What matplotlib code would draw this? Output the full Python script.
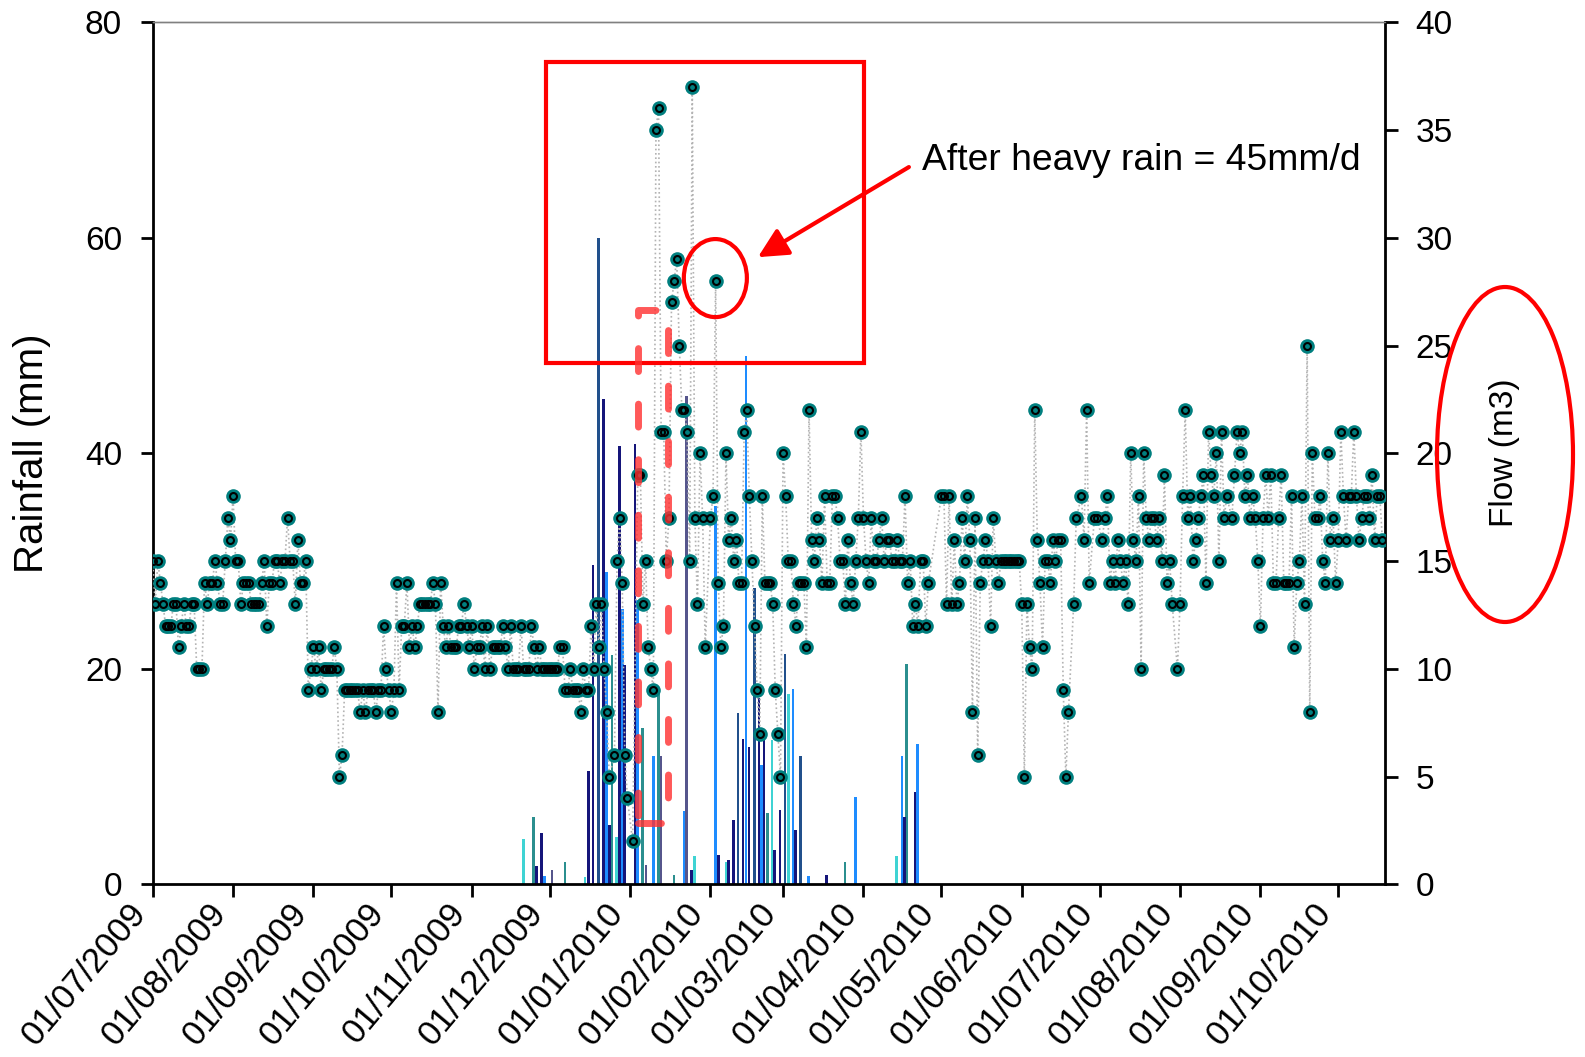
import numpy as np
import pandas as pd
import matplotlib
matplotlib.use("Agg")
import matplotlib.pyplot as plt
from matplotlib.patches import Rectangle, Ellipse

plt.rcParams['font.family'] = ['Liberation Sans', 'DejaVu Sans']

start = pd.Timestamp('2009-07-01')
month_starts = pd.date_range('2009-07-01', '2010-10-01', freq='MS')
tick_days = np.array((month_starts - start).days)
tick_labels = [d.strftime('%d/%m/%Y') for d in month_starts]

# daily flow (m3), one value per day from 01/07/2009, None = no reading
flow = [
    15, 13, 15, 14, 13, 12, 12, 12, 13, 13, 11, 12, 13, 12, 12, 13, 13, 10, 10, 10,
    14, 13, 14, 14, 15, 14, 13, 13, 15, 17, 16, 18, 15, 15, 13, 14, 14, 14, 13, 13,
    13, 13, 14, 15, 12, 14, 14, 15, 15, 14, 15, 15, 17, 15, 15, 13, 16, 14, 14, 15,
    9, 10, 11, 10, 11, 9, 10, 10, 10, 10, 11, 10, 5, 6, 9, 9, 9, 9, 9, 9,
    8, 9, 8, 9, 9, 9, 8, 9, 9, 12, 10, 9, 8, 9, 14, 9, 12, 12, 14, 11,
    12, 11, 12, 13, 13, 13, 13, 13, 14, 13, 8, 14, 12, 11, 12, 11, 11, 11, 12, 12,
    13, 12, 11, 12, 10, 11, 11, 12, 10, 12, 10, 11, 11, 11, 11, 12, 11, 10, 12, 10,
    10, 10, 12, 10, 10, 10, 12, 11, 10, 11, 10, 10, 10, 10, 10, 10, 10, 11, 11, 9,
    9, 10, 9, 9, 9, 8, 10, 9, 9, 12, 10, 13, 11, 13, 10, 8, 5, None, 6, 15,
    17, 14, 6, 4, None, 2, None, 19, 19, 13, 15, 11, 10, 9, 35, 36, 21, 21, 15, 17,
    27, 28, 29, 25, 22, 22, 21, 15, 37, 17, 13, 20, 17, 11, None, 17, 18, 28, 14, 11,
    12, 20, 16, 17, 15, 16, 14, 14, 21, 22, 18, 15, 12, 9, 7, 18, 14, 14, 14, 13,
    9, 7, 5, 20, 18, 15, 15, 13, 12, 14, 14, 14, 11, 22, 16, 15, 17, 16, 14, 18,
    14, 14, 18, 18, 17, 15, 15, 13, 16, 14, 13, 15, 17, 21, 17, 15, 14, 17, 15, 15,
    16, 17, 15, 16, 16, 15, 15, 16, 15, 15, 18, 14, 15, 12, 13, 12, 15, 15, 12, 14,
    None, None, None, None, 18, 18, 13, 18, 13, 16, 13, 14, 17, 15, 18, 16, 8, 17, 6, 14,
    15, 16, 15, 12, 17, 15, 14, 15, 15, 15, 15, 15, 15, 15, 15, 13, 5, 13, 11, 10,
    22, 16, 14, 11, 15, 15, 14, 16, 15, 16, 16, 9, 5, 8, None, 13, 17, None, 18, 16,
    22, 14, None, 17, 17, None, 16, 17, 18, 14, 15, 14, 16, 15, 14, 15, 13, 20, 16, 15,
    18, 10, 20, 17, 16, 17, 17, 16, 17, 15, 19, 14, 15, 13, None, 10, 13, 18, 22, 17,
    18, 15, 16, 17, 18, 19, 14, 21, 19, 18, 20, 15, 21, 17, 18, None, 17, 19, 21, 20,
    21, 18, 19, 17, 18, 17, 15, 12, 17, 19, 17, 19, 14, 14, 17, 19, 14, 14, 14, 18,
    11, 14, 15, 18, 13, 25, 8, 20, 17, 17, 18, 15, 14, 20, 16, 17, 14, 16, 21, 18,
    16, 18, 18, 21, 18, 16, 17, 18, 18, 17, 19, 16, 18, 18, 16,
]

# daily rainfall (mm) at several gauges: day number from 01/07/2009, value
rain_navy_day = [148, 150, 168, 169.8, 173.7, 176, 179.9, 181.8, 185.9, 207.7, 218, 221.9,
                 223.8, 227.6, 229.9, 233.7, 235.6, 239.8, 241.8, 247.9, 259.8, 289.9, 293.8]
rain_navy_mm = [1.7, 4.8, 10.5, 29.6, 45, 5.5, 40.7, 20.4, 40.9, 1.3, 2.7, 2.3,
                6, 13.5, 12.8, 17.3, 13.7, 3.2, 6.9, 5.1, 0.9, 6.3, 8.6]
rain_dark_day = [171.8, 225.7, 231.9, 243.7, 249.7]
rain_dark_mm = [60, 15.9, 27.5, 21.4, 11.9]
rain_blue_day = [151, 175, 181, 186.9, 193, 204.8, 217, 228.7, 234.7, 246.9, 252.7, 270.9, 288.8, 294.7]
rain_blue_mm = [0.8, 29, 25.6, 26.4, 11.9, 6.8, 35.1, 49, 11.1, 18.1, 0.8, 8.1, 11.9, 13]
rain_cyan_day = [142.9, 166.6, 178.8, 208.8, 221, 238.8, 245, 286.7]
rain_cyan_mm = [4.2, 0.7, 4.4, 2.6, 2.1, 13.4, 17.7, 2.6]
rain_teal_day = [146.7, 159, 177, 188.9, 194.9, 200.9, 236.9, 266.8, 290.6]
rain_teal_mm = [6.3, 2.1, 21.3, 14.5, 18, 0.9, 6.6, 2.1, 20.5]
rain_slate_day = [154, 190.1, 195.9, 205.8]
rain_slate_mm = [1.3, 1.8, 11.9, 45.3]

rain_series = [
    (rain_cyan_day, rain_cyan_mm, '#3fd3d3'),
    (rain_teal_day, rain_teal_mm, '#2b8f8f'),
    (rain_blue_day, rain_blue_mm, '#1e8cff'),
    (rain_slate_day, rain_slate_mm, '#56568c'),
    (rain_dark_day, rain_dark_mm, '#21508c'),
    (rain_navy_day, rain_navy_mm, '#15157a'),
]

fig = plt.figure(figsize=(15.85, 10.57), dpi=100)
ax = fig.add_axes([0.0963, 0.1632, 0.7775, 0.8158])
ax2 = ax.twinx()

for days, mm, col in rain_series:
    ax.bar(days, mm, width=1.0, color=col, linewidth=0, zorder=2)

ax.set_xlim(0, 475)
ax.set_ylim(0, 80)
ax.set_yticks([0, 20, 40, 60, 80])
ax.set_xticks(tick_days)
ax.set_xticklabels(tick_labels, rotation=50, ha='right', va='top')
ax.tick_params(axis='x', direction='out', length=9, width=2, labelsize=25, pad=0)
ax.tick_params(axis='y', direction='out', length=9, width=2, labelsize=24, pad=13)

x_flow = np.array([i for i, v in enumerate(flow) if v is not None])
y_flow = np.array([v for v in flow if v is not None])
ax2.plot(x_flow, y_flow, linestyle=(0, (1, 1.6)), color='#b3b3b3', lw=1.2, zorder=3)
ax2.plot(x_flow, y_flow, 'o', ms=10.5, mfc='#007f7f', mec='#007f7f', mew=0, zorder=4)
ax2.plot(x_flow, y_flow, 'o', ms=5, mfc='none', mec='black', mew=1.5, zorder=5)
ax2.set_ylim(0, 40)
ax2.set_yticks(range(0, 41, 5))
ax2.tick_params(axis='y', direction='out', length=9, width=2, labelsize=24, pad=13)

for a in (ax, ax2):
    a.spines['top'].set_color('#808080')
    a.spines['top'].set_linewidth(1)
ax.spines['left'].set_linewidth(2)
ax.spines['bottom'].set_linewidth(2)
ax.spines['right'].set_visible(False)
ax2.spines['right'].set_linewidth(2)
ax2.spines['left'].set_visible(False)
ax2.spines['bottom'].set_visible(False)

# annotations
ax2.add_patch(Rectangle((151.6, 24.19), 122.5, 13.96, fill=False, ec='red', lw=3,
                        zorder=6, clip_on=False))
ax2.add_patch(Ellipse((216.9, 28.13), 24.3, 3.62, fill=False, ec='red', lw=3, zorder=6))
dash = Rectangle((187.1, 2.85), 11.5, 23.8, fill=False, ec='#ff3030', alpha=0.8, lw=5,
                 linestyle=(0, (3.3, 4.7)), zorder=7)
dash.set_capstyle('round')
dash.set_joinstyle('round')
ax2.add_patch(dash)
ax2.annotate('', xy=(233.3, 29.1), xytext=(291.5, 33.28),
             arrowprops=dict(arrowstyle='-|>,head_length=0.9,head_width=0.45',
                             color='red', lw=3, mutation_scale=20, shrinkA=0, shrinkB=0),
             zorder=6)
ax2.text(296.4, 33.14, 'After heavy rain = 45mm/d', fontsize=26.8, va='baseline', ha='left')

fig.text(32 / 1585, 1 - 453 / 1057, 'Rainfall (mm)', rotation=90, fontsize=29,
         ha='center', va='center')
fig.text(1505 / 1585, 1 - 453 / 1057, 'Flow (m3)', rotation=90, fontsize=24,
         ha='center', va='center')
fig.patches.append(Ellipse((1505 / 1585, 1 - 454.5 / 1057), 136 / 1585, 335 / 1057,
                           transform=fig.transFigure, fill=False, ec='red', lw=3))

fig.savefig('out.png', dpi=100)
